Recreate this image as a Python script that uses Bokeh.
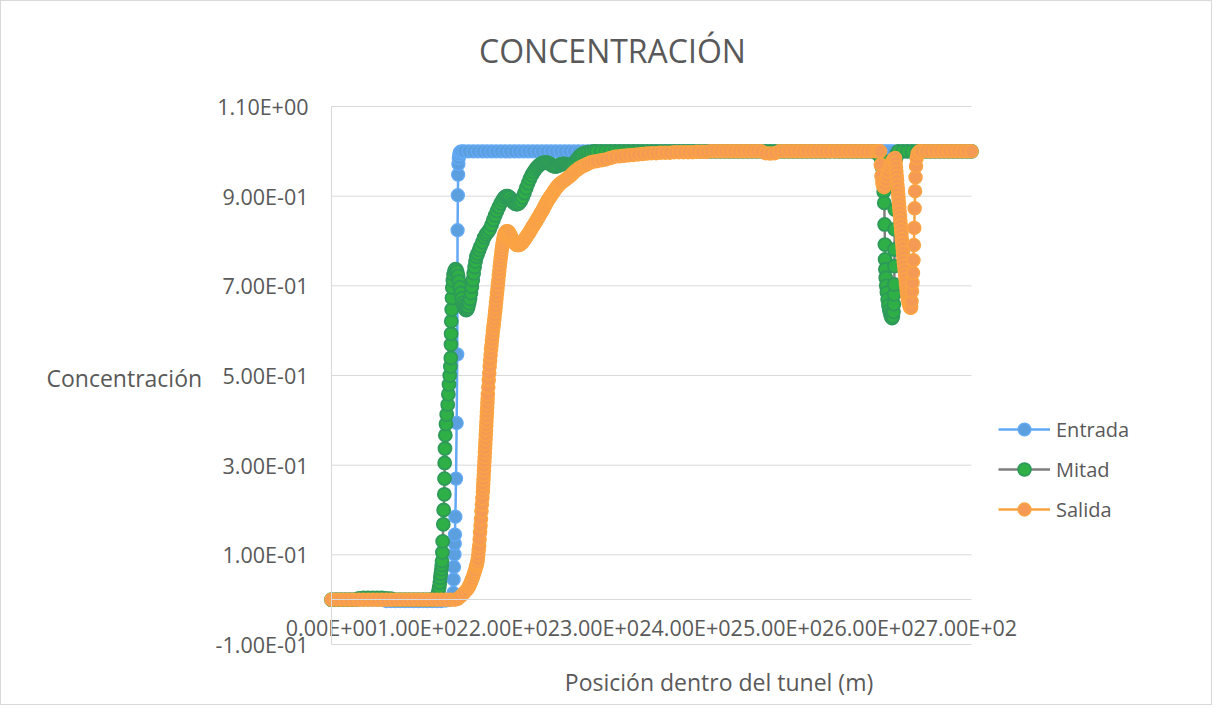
from bokeh.plotting import figure
from bokeh.models import ColumnDataSource, FixedTicker, Legend, LegendItem, Label
from bokeh.embed import file_html
from bokeh.resources import INLINE

TITLE = "CONCENTRACIÓN"
X_TITLE = "Posición dentro del tunel (m)"
Y_TITLE = "Concentración"
SERIES_NAMES = ["Entrada", "Mitad", "Salida"]
X_TICKS = [0, 100, 200, 300, 400, 500, 600, 700]
X_TICK_LABELS = ["0.00E+00", "1.00E+02", "2.00E+02", "3.00E+02", "4.00E+02",
                 "5.00E+02", "6.00E+02", "7.00E+02"]
Y_TICKS = [-0.1, 0.1, 0.3, 0.5, 0.7, 0.9, 1.1]
Y_TICK_LABELS = ["-1.00E-01", "1.00E-01", "3.00E-01", "5.00E-01", "7.00E-01",
                 "9.00E-01", "1.10E+00"]

# (posición m, concentración)
ENTRADA = [
    (0, 0.0), (5, 0.0), (10, 0.0), (15, 0.0), (20, 0.0), (25, 0.0), (30, 0.0), (35, 0.0),
    (40, 0.0), (45, 0.0), (50, 0.0), (55, 0.0), (60, -0.003), (65, -0.003), (70, -0.003),
    (75, -0.003), (80, -0.003), (85, -0.003), (90, -0.003), (95, -0.003), (100, -0.003),
    (105, -0.003), (110, -0.003), (115, -0.003), (120, -0.003), (125, -0.002), (130, 0.0),
    (132.5, 0.005), (133.3, 0.015), (133.6, 0.045), (134.0, 0.073), (134.5, 0.101),
    (134.8, 0.125), (135.0, 0.145), (135.5, 0.185), (136.2, 0.270), (136.9, 0.394),
    (137.5, 0.547), (137.9, 0.824), (138.2, 0.902), (138.5, 0.948), (138.8, 0.972),
    (139.2, 0.985), (139.8, 0.993), (140.5, 0.998), (142, 1.0),
    (145, 1.0), (150, 1.0), (155, 1.0), (160, 1.0), (165, 1.0), (170, 1.0), (175, 1.0),
    (180, 1.0), (185, 1.0), (190, 1.0), (195, 1.0), (200, 1.0), (205, 1.0), (210, 1.0),
    (215, 1.0), (220, 1.0), (225, 1.0), (230, 1.0), (235, 1.0), (240, 1.0), (245, 1.0),
    (250, 1.0), (255, 1.0), (260, 1.0), (265, 1.0), (270, 1.0), (275, 1.0), (280, 1.0),
    (285, 1.0), (290, 1.0), (295, 1.0), (300, 1.0), (305, 1.0), (310, 1.0), (315, 1.0),
    (320, 1.0), (325, 1.0), (330, 1.0), (335, 1.0), (340, 1.0), (345, 1.0), (350, 1.0),
    (355, 1.0), (360, 1.0), (365, 1.0), (370, 1.0), (375, 1.0), (380, 1.0), (385, 1.0),
    (390, 1.0), (395, 1.0), (400, 1.0), (405, 1.0), (410, 1.0), (415, 1.0), (420, 1.0),
    (425, 1.0), (430, 1.0), (435, 1.0), (440, 1.0), (445, 1.0), (450, 1.0), (455, 1.0),
    (460, 1.0), (465, 1.0), (470, 1.0), (475, 1.0), (480, 1.0), (485, 1.0), (490, 1.0),
    (495, 1.0), (500, 1.0), (505, 1.0), (510, 1.0), (515, 1.0), (520, 1.0), (525, 1.0),
    (530, 1.0), (535, 1.0), (540, 1.0), (545, 1.0), (550, 1.0), (555, 1.0), (560, 1.0),
    (565, 1.0), (570, 1.0), (575, 1.0), (580, 1.0), (585, 1.0), (590, 1.0), (595, 1.0),
    (600, 1.0), (603, 1.0), (606, 1.0), (609, 1.0), (612, 1.0), (615, 1.0), (620, 1.0),
    (625, 1.0), (630, 1.0), (635, 1.0), (640, 1.0), (645, 1.0), (650, 1.0), (655, 1.0),
    (660, 1.0), (665, 1.0), (670, 1.0), (675, 1.0), (680, 1.0), (685, 1.0), (690, 1.0),
    (695, 1.0), (700, 1.0),
]

MITAD = [
    (0, 0.0), (5, 0.0), (10, 0.0), (15, 0.0), (20, 0.0), (25, 0.0), (30, 0.003), (35, 0.004),
    (40, 0.004), (45, 0.004), (50, 0.004), (55, 0.004), (60, 0.003), (65, 0.002), (70, 0.0),
    (75, 0.0), (80, 0.0), (85, 0.0), (90, 0.0), (95, 0.0), (100, 0.0), (105, 0.0), (110, 0.0),
    (113, 0.003), (114.5, 0.006), (116.1, 0.012), (117.0, 0.018), (117.8, 0.027),
    (118.5, 0.038), (119.0, 0.049), (119.6, 0.058), (120.2, 0.068), (120.6, 0.077),
    (120.9, 0.086), (121.3, 0.105), (121.6, 0.130), (122.3, 0.168), (122.7, 0.200),
    (123.4, 0.235), (123.6, 0.270), (123.8, 0.305), (124.1, 0.337), (124.5, 0.367),
    (125.2, 0.392), (126.0, 0.413), (127.1, 0.435), (127.8, 0.458), (128.5, 0.480),
    (129.3, 0.500), (130.0, 0.520), (130.5, 0.539), (130.7, 0.569), (130.8, 0.593),
    (131.0, 0.621), (131.5, 0.647), (131.8, 0.673), (132.2, 0.696), (132.8, 0.712),
    (133.5, 0.725), (134.5, 0.733), (135.5, 0.737), (136.5, 0.736), (137.5, 0.731),
    (138.5, 0.722), (139.5, 0.710), (140.5, 0.697), (141.5, 0.684), (142.5, 0.672),
    (143.5, 0.662), (144.5, 0.655), (145.5, 0.650), (146.5, 0.647), (147.5, 0.646),
    (148.5, 0.648), (149.5, 0.653), (150.5, 0.661), (151.5, 0.671), (152.5, 0.684),
    (153.5, 0.698), (154.5, 0.713), (155.5, 0.728), (156.5, 0.742), (157.5, 0.754),
    (158.5, 0.765), (160, 0.772), (161.5, 0.780), (163, 0.788), (165, 0.797), (167, 0.808),
    (169, 0.815), (171, 0.820), (173, 0.826), (175, 0.836), (177, 0.847), (179, 0.857),
    (181, 0.867), (183, 0.876), (185, 0.884), (187, 0.891), (189, 0.897), (191, 0.900),
    (193, 0.900), (195, 0.897), (197, 0.891), (199, 0.886), (201, 0.883), (203, 0.882),
    (205, 0.884), (207, 0.889), (209, 0.897), (211, 0.907), (213, 0.918), (215, 0.929),
    (217, 0.939), (219, 0.947), (221, 0.954), (223, 0.960), (225, 0.965), (227, 0.969),
    (229, 0.972), (231, 0.974), (233, 0.975), (235, 0.975), (237, 0.974), (239, 0.972),
    (241, 0.969), (243, 0.967), (245, 0.966), (247, 0.967), (249, 0.969), (251, 0.971),
    (253, 0.972), (255, 0.972), (257, 0.971), (259, 0.970), (261, 0.969), (263, 0.970),
    (265, 0.973), (267, 0.978), (269, 0.983), (271, 0.988), (273, 0.992), (275, 0.995),
    (278, 0.997), (281, 0.998), (284, 0.999), (287, 1.0),
    (290, 1.0), (295, 1.0), (300, 1.0), (305, 1.0), (310, 1.0), (315, 1.0), (320, 1.0),
    (325, 1.0), (330, 1.0), (335, 1.0), (340, 1.0), (345, 1.0), (350, 1.0), (355, 1.0),
    (360, 1.0), (365, 1.0), (370, 1.0), (375, 1.0), (380, 1.0), (385, 1.0), (390, 1.0),
    (395, 1.0), (400, 1.0), (405, 1.0), (410, 1.0), (415, 1.0), (420, 1.0), (425, 1.0),
    (430, 1.0), (435, 1.0), (440, 1.0), (445, 1.0), (450, 1.0), (455, 1.0), (460, 1.0),
    (465, 1.0), (470, 1.0), (475, 1.0), (480, 1.0), (485, 1.0), (490, 1.0), (495, 1.0),
    (500, 1.0), (505, 1.0), (510, 1.0), (515, 1.0), (520, 1.0), (525, 1.0), (530, 1.0),
    (535, 1.0), (540, 1.0), (545, 1.0), (550, 1.0), (555, 1.0), (560, 1.0), (565, 1.0),
    (570, 1.0), (575, 1.0), (580, 1.0), (585, 1.0), (590, 1.0), (595, 1.0),
    (597, 0.995), (599, 0.992), (601, 0.985), (602, 0.965), (603, 0.940), (604, 0.910),
    (604.6, 0.885), (605.0, 0.837), (605.3, 0.792), (605.5, 0.759), (605.8, 0.737),
    (606.2, 0.718), (606.8, 0.700), (607.5, 0.685), (608.3, 0.670), (609.2, 0.656),
    (610.2, 0.645), (611.2, 0.637), (612.2, 0.631), (613.2, 0.628), (614.0, 0.632),
    (614.6, 0.642), (615.1, 0.659), (615.4, 0.681), (615.6, 0.703), (615.7, 0.744),
    (615.8, 0.781), (615.9, 0.826), (616.1, 0.870), (616.4, 0.920), (616.8, 0.960),
    (617.5, 0.985), (618.5, 0.995), (620, 1.0), (625, 1.0), (630, 1.0), (635, 1.0),
    (640, 1.0), (645, 1.0), (650, 1.0), (655, 1.0), (660, 1.0), (665, 1.0), (670, 1.0),
    (675, 1.0), (680, 1.0), (685, 1.0), (690, 1.0), (695, 1.0), (700, 1.0),
]

SALIDA = [
    (0, 0.0), (5, 0.0), (10, 0.0), (15, 0.0), (20, 0.0), (25, 0.0), (30, 0.0), (35, 0.0),
    (40, 0.0), (45, 0.0), (50, 0.0), (55, 0.0), (60, 0.0), (65, 0.0), (70, 0.0), (75, 0.0),
    (80, 0.0), (85, 0.0), (90, 0.0), (95, 0.0), (100, 0.0), (105, 0.0), (110, 0.0),
    (115, 0.0), (120, 0.0), (125, 0.0), (130, 0.0), (135, 0.0), (138, 0.002),
    (141.6, 0.008), (145, 0.015), (148, 0.022), (150, 0.028), (151, 0.032), (152, 0.037),
    (153, 0.042), (154, 0.047), (155, 0.053), (156, 0.059), (157, 0.065), (158, 0.072),
    (158.5, 0.076), (159, 0.080), (159.5, 0.084), (160, 0.090), (160.5, 0.100),
    (161, 0.110), (161.5, 0.120), (162, 0.135), (162.5, 0.150), (163, 0.165),
    (163.5, 0.180), (164, 0.197), (164.5, 0.212), (165, 0.226), (165.5, 0.240),
    (165.75, 0.249), (166, 0.258), (166.25, 0.268), (166.5, 0.278), (166.75, 0.288),
    (167, 0.298), (167.25, 0.308), (167.5, 0.318), (167.75, 0.328), (168, 0.338),
    (168.25, 0.348), (168.5, 0.358), (168.75, 0.368), (169, 0.378), (169.25, 0.388),
    (169.5, 0.398), (169.75, 0.408), (170, 0.418), (170.25, 0.428), (170.5, 0.438),
    (170.75, 0.448), (171, 0.458), (171.5, 0.474), (172, 0.490), (172.5, 0.505),
    (173, 0.520), (173.5, 0.533), (174, 0.546), (174.5, 0.558), (175, 0.568),
    (175.5, 0.578), (176, 0.588), (176.5, 0.598), (177, 0.607), (177.5, 0.615),
    (178, 0.624), (178.5, 0.633), (179, 0.643), (179.5, 0.653), (180, 0.663),
    (180.5, 0.673), (181, 0.683), (181.5, 0.693), (182, 0.703), (182.5, 0.713),
    (183, 0.723), (183.5, 0.733), (184, 0.743), (184.5, 0.752), (185, 0.761),
    (185.5, 0.769), (186, 0.777), (186.5, 0.785), (187, 0.792), (187.5, 0.798),
    (188, 0.804), (188.5, 0.809), (189, 0.813), (189.5, 0.816), (190, 0.818),
    (191, 0.821), (192, 0.822), (193, 0.821), (194, 0.820), (195, 0.816), (196, 0.812),
    (197, 0.807), (198, 0.803), (199, 0.799), (200, 0.796), (201, 0.794), (202, 0.792),
    (203, 0.791), (204, 0.791), (205, 0.791), (206, 0.792), (207, 0.793), (208, 0.795),
    (209, 0.797), (210, 0.800), (211, 0.803), (212, 0.806), (213, 0.809), (214, 0.812),
    (215, 0.815), (216, 0.818), (217, 0.821), (218, 0.825), (219, 0.828), (220, 0.832),
    (221, 0.835), (222, 0.838), (223, 0.841), (224, 0.845), (225, 0.848), (226, 0.852),
    (227, 0.855), (228, 0.859), (229, 0.862), (230, 0.866), (231, 0.869), (232, 0.873),
    (233, 0.877), (234, 0.881), (235, 0.885), (236, 0.889), (237, 0.892), (238, 0.895),
    (239, 0.898), (240, 0.901), (241, 0.904), (242, 0.907), (243, 0.910), (244, 0.913),
    (245, 0.916), (246, 0.919), (247, 0.921), (248, 0.924), (249, 0.926), (250, 0.928),
    (252, 0.931), (254, 0.934), (256, 0.937), (258, 0.940), (260, 0.943), (262, 0.947),
    (264, 0.951), (266, 0.955), (268, 0.958), (270, 0.961), (272, 0.964), (274, 0.966),
    (276, 0.968), (278, 0.970), (280, 0.972), (283, 0.975), (286, 0.977), (290, 0.978),
    (295, 0.980), (300, 0.982), (305, 0.985), (310, 0.988), (315, 0.989), (320, 0.990),
    (325, 0.991), (330, 0.992), (335, 0.993), (340, 0.994), (345, 0.995), (350, 0.996),
    (355, 0.996), (360, 0.997), (365, 0.997), (370, 0.997), (375, 0.998), (380, 0.998),
    (385, 0.998), (390, 0.998), (395, 0.998), (400, 0.999), (405, 0.999), (410, 0.999),
    (415, 1.0), (420, 1.0), (425, 1.0), (430, 1.0), (435, 1.0), (440, 1.0), (445, 1.0),
    (450, 1.0), (455, 1.0), (460, 1.0), (465, 1.0), (470, 1.0), (475, 0.996),
    (480, 0.995), (485, 0.996), (490, 1.0), (495, 1.0), (500, 1.0), (505, 1.0), (510, 1.0),
    (515, 1.0), (520, 1.0), (525, 1.0), (530, 1.0), (535, 1.0), (540, 1.0), (545, 1.0),
    (550, 1.0), (555, 1.0), (560, 1.0), (565, 1.0), (570, 1.0), (575, 1.0), (580, 1.0),
    (585, 1.0), (590, 1.0), (595, 1.0), (598, 1.0), (600, 1.0),
    (600.8, 0.970), (601.5, 0.945), (602.5, 0.930), (603.5, 0.922), (604.5, 0.920),
    (605.5, 0.925), (606.5, 0.935), (607.5, 0.945), (609, 0.955), (610.5, 0.965),
    (612, 0.972), (613.5, 0.978), (615, 0.983), (616.5, 0.985), (617.0, 0.975),
    (617.4, 0.965), (617.8, 0.955), (618.2, 0.945), (618.6, 0.935), (619.0, 0.925),
    (619.4, 0.915), (619.8, 0.905), (620.2, 0.895), (620.6, 0.885), (621.0, 0.875),
    (621.4, 0.865), (621.8, 0.855), (622.2, 0.845), (622.6, 0.835), (623.0, 0.825),
    (623.4, 0.815), (623.8, 0.805), (624.2, 0.795), (624.6, 0.785), (625.0, 0.775),
    (625.4, 0.765), (625.8, 0.755), (626.3, 0.745), (626.8, 0.735), (627.3, 0.725),
    (627.8, 0.715), (628.3, 0.705), (628.8, 0.695), (629.3, 0.686), (629.9, 0.678),
    (630.5, 0.670), (631.1, 0.664), (631.7, 0.659), (632.3, 0.655), (632.9, 0.652),
    (633.5, 0.651), (634.0, 0.652), (634.5, 0.666), (635.0, 0.688), (635.5, 0.707),
    (636.0, 0.729), (636.5, 0.757), (637.0, 0.791), (637.4, 0.829), (637.8, 0.873),
    (638.3, 0.911), (638.8, 0.942), (639.3, 0.967), (640.0, 0.985), (641.0, 0.995),
    (643, 1.0), (645, 1.0), (650, 1.0), (655, 1.0), (660, 1.0), (665, 1.0), (670, 1.0),
    (675, 1.0), (680, 1.0), (685, 1.0), (690, 1.0), (695, 1.0), (700, 1.0),
]

SERIES = [ENTRADA, MITAD, SALIDA]
LINE_COLORS = ["#62a8f5", "#7f7f7f", "#f9a33f"]
FILL_COLORS = ["#5b9fdf", "#2fb046", "#f49a55"]
EDGE_COLORS = ["#64aaf5", "#2e9a5a", "#fba444"]
EDGE_WIDTHS = [1.3, 1.8, 1.5]

FONT = "Open Sans"
TEXT_COLOR = "#595959"
GRID_COLOR = "#d9d9d9"

# The frame covers the whole canvas; the ranges place the plot area
# (x 0..700, y -0.1..1.1) at canvas pixels x 330..970, y 105..643.
W, H = 1212, 705
PX_L, PX_R, PY_T, PY_B = 330, 970, 105, 643
sx = (PX_R - PX_L) / 700.0
sy = (PY_B - PY_T) / 1.2
x_start = -PX_L / sx
x_end = (W - PX_L) / sx
y_end = 1.1 + PY_T / sy
y_start = 1.1 - (H - PY_T) / sy


def dx(px):
    return (px - PX_L) / sx


def dy(py):
    return 1.1 - (py - PY_T) / sy


p = figure(width=W, height=H, x_range=(x_start, x_end), y_range=(y_start, y_end),
           output_backend="svg", toolbar_location=None, min_border=0,
           min_border_left=0, min_border_right=0, min_border_top=0, min_border_bottom=0,
           background_fill_color="white", border_fill_color="white")
p.outline_line_color = None
p.styles = {"border": "1px solid #d9d9d9"}
p.xgrid.visible = False
p.ygrid.visible = False

# horizontal gridlines across the plot area at the y ticks
p.segment(x0=[0] * len(Y_TICKS), x1=[700] * len(Y_TICKS), y0=Y_TICKS, y1=Y_TICKS,
          line_color=GRID_COLOR, line_width=1)

items = []
for name, data, lc, fc, ec, ew in zip(SERIES_NAMES, SERIES, LINE_COLORS, FILL_COLORS,
                                      EDGE_COLORS, EDGE_WIDTHS):
    src = ColumnDataSource(dict(x=[d[0] for d in data], y=[d[1] for d in data]))
    lr = p.line("x", "y", source=src, line_color=lc, line_width=2.5)
    sr = p.scatter("x", "y", source=src, marker="circle", size=13,
                   fill_color=fc, line_color=ec, line_width=ew)
    items.append(LegendItem(label=name, renderers=[lr, sr]))

# axes crossing at (0, 0)
p.xaxis.ticker = FixedTicker(ticks=X_TICKS)
p.xaxis.major_label_overrides = dict(zip(X_TICKS, X_TICK_LABELS))
p.xaxis.fixed_location = 0
p.xaxis.bounds = (0, 700)
p.yaxis.ticker = FixedTicker(ticks=Y_TICKS)
p.yaxis.major_label_overrides = dict(zip(Y_TICKS, Y_TICK_LABELS))
p.yaxis.fixed_location = 0
p.yaxis.bounds = (-0.1, 1.1)
for ax in (p.xaxis, p.yaxis):
    ax.axis_line_color = GRID_COLOR
    ax.axis_line_width = 1
    ax.major_tick_in = 0
    ax.major_tick_out = 0
    ax.minor_tick_line_color = None
    ax.major_label_text_font = FONT
    ax.major_label_text_font_size = "21.5px"
    ax.major_label_text_color = TEXT_COLOR
p.xaxis.major_label_standoff = 13
p.yaxis.major_label_standoff = 23

legend = Legend(items=items, location=(997, H - 524), orientation="vertical",
                glyph_width=52, glyph_height=32, spacing=8, padding=0, margin=0,
                label_standoff=6, label_text_font=FONT, label_text_font_size="20px",
                label_text_color=TEXT_COLOR, border_line_alpha=0,
                background_fill_alpha=0)
p.add_layout(legend)

p.add_layout(Label(x=dx(611), y=dy(49), text=TITLE, text_align="center",
                   text_baseline="middle", text_font=FONT, text_font_size="32px",
                   text_color=TEXT_COLOR))
p.add_layout(Label(x=dx(45), y=dy(376), text=Y_TITLE, text_align="left",
                   text_baseline="middle", text_font=FONT, text_font_size="23px",
                   text_color=TEXT_COLOR))
p.add_layout(Label(x=dx(717.5), y=dy(680), text=X_TITLE, text_align="center",
                   text_baseline="middle", text_font=FONT, text_font_size="23px",
                   text_color=TEXT_COLOR))

open("out.html", "w").write(file_html(p, INLINE))
